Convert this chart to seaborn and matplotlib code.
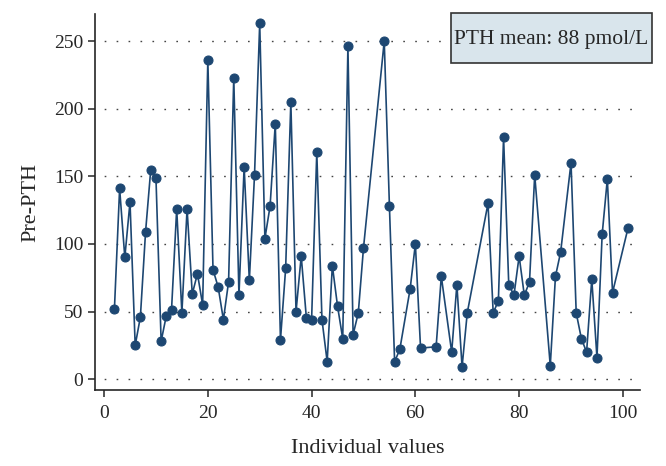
import matplotlib
matplotlib.use("Agg")
import matplotlib.pyplot as plt
from matplotlib.patches import Rectangle
import seaborn as sns
import pandas as pd

# individual patient index and pre-dialysis PTH values (pmol/L)
individual = list(range(2, 51)) + [54, 55, 56, 57, 59, 60, 61, 64, 65, 67, 68, 69, 70,
                                   74, 75, 76, 77, 78, 79, 80, 81, 82, 83, 86, 87, 88,
                                   90, 91, 92, 93, 94, 95, 96, 97, 98, 101]
pre_pth = [52, 141, 90, 131, 25, 46, 109, 155, 149, 28, 47, 51, 126, 49, 126, 63, 78,
           55, 236, 81, 68, 44, 72, 223, 62, 157, 73, 151, 263, 104, 128, 189, 29, 82,
           205, 50, 91, 45, 44, 168, 44, 13, 84, 54, 30, 246, 33, 49, 97,
           250, 128, 13, 22, 67, 100, 23, 24, 76, 20, 70, 9, 49,
           130, 49, 58, 179, 70, 62, 91, 62, 72, 151, 10, 76, 94,
           160, 49, 30, 20, 74, 16, 107, 148, 64, 112]
yticks = [0, 50, 100, 150, 200, 250]
xticks = [0, 20, 40, 60, 80, 100]

df = pd.DataFrame({"Individual values": individual, "Pre-PTH": pre_pth})

sns.set_style("ticks")
plt.rcParams["font.family"] = ["Liberation Serif", "DejaVu Serif"]

fig = plt.figure(figsize=(6.66, 4.66), dpi=100)
ax = fig.add_axes([0.143, 0.163, 0.818, 0.807])

line_color = "#1d4772"
sns.lineplot(data=df, x="Individual values", y="Pre-PTH", ax=ax, color=line_color,
             marker="o", markersize=6.5, markeredgecolor=line_color, linewidth=1.2)

ax.set_xlim(-1.7, 103.3)
ax.set_ylim(-8, 270)
ax.set_xticks(xticks)
ax.set_yticks(yticks)
ax.yaxis.grid(True, linestyle=(2, (1.2, 7.4)), color="#444444", linewidth=1.0)
ax.set_axisbelow(True)
sns.despine(ax=ax)
ax.spines["left"].set_linewidth(1.2)
ax.spines["bottom"].set_linewidth(1.2)
ax.tick_params(axis="both", labelsize=14, direction="out", length=5, width=1.1)
ax.tick_params(axis="x", pad=6)
ax.set_xlabel("Individual values", fontsize=16, labelpad=12)
ax.set_ylabel("Pre-PTH", fontsize=16, labelpad=10)

# mean annotation box, sticking out past the axes on the right
fig.patches.append(Rectangle((0.677, 0.865), 0.302, 0.107, transform=fig.transFigure,
                             facecolor="#d9e5ec", edgecolor="#333333", linewidth=1.2))
fig.text(0.828, 0.916, "PTH mean: 88 pmol/L", ha="center", va="center", fontsize=15.5)

fig.savefig("out.png", dpi=100)
